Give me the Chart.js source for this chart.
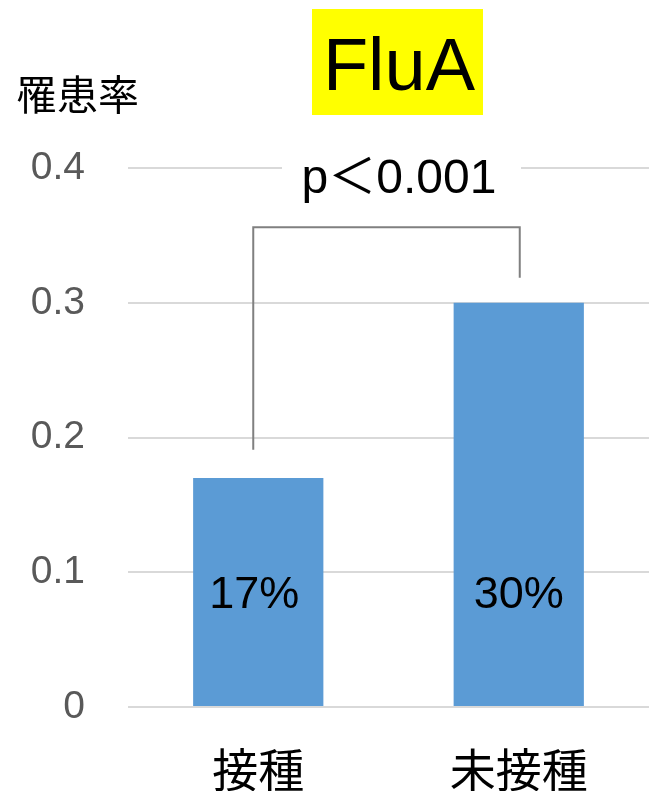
<!DOCTYPE html>
<html>
<head>
<meta charset="utf-8">
<script src="https://cdn.jsdelivr.net/npm/chart.js@4"></script>
<style>
  html, body { margin: 0; padding: 0; background: #fff; }
  #wrap { width: 649px; height: 791px; }
</style>
</head>
<body>
<div id="wrap"><canvas id="chart"></canvas></div>
<script>
// ----------------------- Data ----------------------------------
const categories = ['接種', '未接種'];
const rates = [0.17, 0.30];
const rateLabels = ['17%', '30%'];
const yTicks = [0, 0.1, 0.2, 0.3, 0.4];
const titleText = 'FluA';
const yTitle = '罹患率';
const pText = 'p＜0.001';

const LATIN = '"Liberation Sans", "Noto Sans CJK JP", sans-serif';
const CJK = '"Noto Sans CJK JP", sans-serif';

// ----------------------- Extra drawing ---------------------------
// title box, axis caption, labels inside bars, significance bracket
const decorations = {
  id: 'decorations',
  afterDatasetsDraw(chart) {
    const ctx = chart.ctx;
    const y = chart.scales.y;
    ctx.save();

    // FluA in a yellow box
    ctx.fillStyle = '#ffff00';
    ctx.fillRect(312, 9, 171, 106);
    ctx.fillStyle = '#000';
    ctx.font = '74px ' + LATIN;
    ctx.textAlign = 'center';
    ctx.textBaseline = 'alphabetic';
    ctx.fillText(titleText, 399, 90);

    // y caption
    ctx.font = '41px ' + CJK;
    ctx.textAlign = 'left';
    ctx.textBaseline = 'middle';
    ctx.fillText(yTitle, 16, 94);

    // percentage labels, same height in each bar
    ctx.font = '45px ' + LATIN;
    ctx.textAlign = 'center';
    ctx.textBaseline = 'middle';
    const meta = chart.getDatasetMeta(0);
    meta.data.forEach((bar, i) => {
      ctx.fillText(rateLabels[i], bar.x - (i === 0 ? 4 : 0), y.getPixelForValue(0.083));
    });

    // bracket
    const x1 = meta.data[0].x - 5;
    const x2 = meta.data[1].x + 1;
    ctx.strokeStyle = '#808080';
    ctx.lineWidth = 2;
    ctx.beginPath();
    ctx.moveTo(x1, y.getPixelForValue(rates[0] + 0.021));
    ctx.lineTo(x1, y.getPixelForValue(0.356));
    ctx.lineTo(x2, y.getPixelForValue(0.356));
    ctx.lineTo(x2, y.getPixelForValue(rates[1] + 0.0185));
    ctx.stroke();

    // p value with white backing over the top gridline
    const top = y.getPixelForValue(0.4);
    ctx.fillStyle = '#fff';
    ctx.fillRect(282, top - 6, 239, 12);
    ctx.fillStyle = '#000';
    ctx.font = '48px ' + LATIN;
    ctx.textAlign = 'center';
    ctx.textBaseline = 'alphabetic';
    ctx.fillText(pText, 399, 193);

    ctx.restore();
  }
};

// ----------------------- Chart ----------------------------------
new Chart(document.getElementById('chart'), {
  type: 'bar',
  data: {
    labels: categories,
    datasets: [{
      data: rates,
      backgroundColor: '#5b9bd5',
      borderWidth: 0,
      categoryPercentage: 0.5,
      barPercentage: 1
    }]
  },
  options: {
    responsive: true,
    maintainAspectRatio: false,
    animation: false,
    layout: { padding: { top: 168, right: -5, bottom: 0, left: 0 } },
    plugins: {
      legend: { display: false },
      tooltip: { enabled: false },
      title: { display: false }
    },
    scales: {
      x: {
        grid: { display: false, drawTicks: false },
        border: { display: false },
        ticks: {
          color: '#000',
          font: { family: CJK, size: 46 },
          padding: 35
        },
        afterFit(axis) { axis.height = 84; }
      },
      y: {
        min: 0,
        max: 0.4,
        afterBuildTicks(axis) { axis.ticks = yTicks.map(v => ({ value: v })); },
        grid: { color: '#d9d9d9', lineWidth: 2, drawTicks: false },
        border: { display: false },
        ticks: {
          color: '#595959',
          font: { family: LATIN, size: 39 },
          padding: 43,
          callback: v => (v === 0 ? '0' : v.toFixed(1))
        },
        afterFit(axis) { axis.width = 128; }
      }
    }
  },
  plugins: [decorations]
});
</script>
</body>
</html>
